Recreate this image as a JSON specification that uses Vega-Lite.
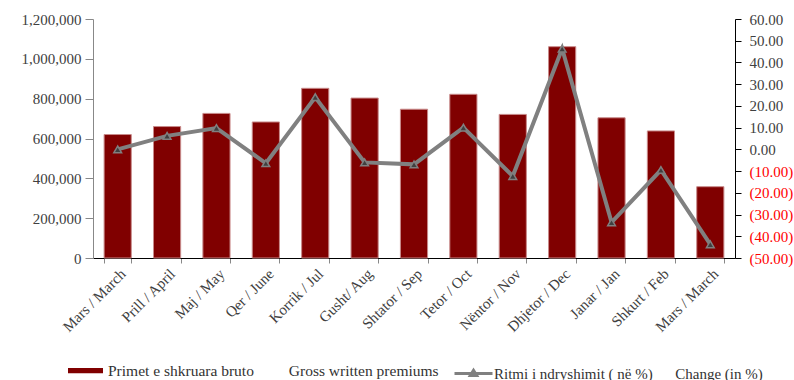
{
  "$schema": "https://vega.github.io/schema/vega-lite/v6.json",
  "autosize": {"type": "none"},
  "width": 642,
  "height": 239,
  "padding": {"left": 93, "top": 19, "right": 59, "bottom": 122},
  "background": "white",
  "config": {
    "font": "Liberation Serif",
    "view": {"stroke": null},
    "axis": {"labelFont": "Liberation Serif", "labelFontSize": 15, "labelColor": "#404040", "grid": false, "title": null},
    "legend": {"labelFont": "Liberation Serif", "labelFontSize": 15, "labelColor": "#333333", "labelLimit": 500, "title": null}
  },
  "data": {
    "values": [
      {"month": "Mars / March", "order": 1, "premiums": 620000, "change": 0.0},
      {"month": "Prill / April", "order": 2, "premiums": 660000, "change": 6.2},
      {"month": "Maj / May", "order": 3, "premiums": 726000, "change": 9.8},
      {"month": "Qer  / June", "order": 4, "premiums": 683000, "change": -6.4},
      {"month": "Korrik / Jul", "order": 5, "premiums": 852000, "change": 24.0},
      {"month": "Gusht/ Aug", "order": 6, "premiums": 803000, "change": -6.0},
      {"month": "Shtator / Sep", "order": 7, "premiums": 747000, "change": -6.9},
      {"month": "Tetor / Oct", "order": 8, "premiums": 822000, "change": 10.0},
      {"month": "Nëntor / Nov", "order": 9, "premiums": 721000, "change": -12.3},
      {"month": "Dhjetor / Dec", "order": 10, "premiums": 1061000, "change": 46.3},
      {"month": "Janar / Jan", "order": 11, "premiums": 704000, "change": -33.6},
      {"month": "Shkurt / Feb", "order": 12, "premiums": 638000, "change": -9.5},
      {"month": "Mars / March ", "order": 13, "premiums": 358000, "change": -43.7}
    ]
  },
  "encoding": {
    "x": {
      "field": "month", "type": "nominal", "sort": {"field": "order"},
      "scale": {"paddingInner": 0.45, "paddingOuter": 0.225},
      "axis": {"labelAngle": -45, "domainColor": "#000000", "tickColor": "#888888", "tickBand": "extent", "tickSize": 5, "labelPadding": 3}
    }
  },
  "layer": [
    {
      "mark": {"type": "bar", "stroke": "#c88a8a", "strokeWidth": 1},
      "encoding": {
        "y": {
          "field": "premiums", "type": "quantitative",
          "scale": {"domain": [0, 1200000]},
          "axis": {"values": [0, 200000, 400000, 600000, 800000, 1000000, 1200000], "format": ",d", "domainColor": "#888888", "tickColor": "#888888", "tickSize": 8, "labelPadding": 4}
        },
        "fill": {
          "datum": "Primet e shkruara bruto\u00a0\u00a0\u00a0\u00a0\u00a0\u00a0\u00a0\u00a0\u00a0Gross written premiums",
          "type": "nominal",
          "scale": {"range": ["#800000"]},
          "legend": {
            "orient": "none",
            "legendX": -25,
            "legendY": 334,
            "labelOffset": 5,
            "labelFontSize": 15.5,
            "symbolType": "M-1,-0.15H1V0.15H-1Z",
            "symbolSize": 1225,
            "symbolStrokeWidth": 0,
            "symbolOpacity": 1
          }
        }
      }
    },
    {
      "mark": {"type": "line", "strokeWidth": 4},
      "encoding": {
        "y": {
          "field": "change", "type": "quantitative",
          "scale": {"domain": [-50, 60]},
          "axis": {
            "orient": "right",
            "values": [-50, -40, -30, -20, -10, 0, 10, 20, 30, 40, 50, 60],
            "labelExpr": "datum.value < 0 ? '(' + format(-datum.value, '.2f') + ')' : format(datum.value, '.2f')",
            "labelColor": {"condition": {"test": "datum.value < 0", "value": "#ff0000"}, "value": "#404040"},
            "domainColor": "#000000", "tickColor": "#000000", "tickSize": 6, "labelPadding": 8
          }
        },
        "stroke": {
          "datum": "Ritmi i ndryshimit ( në %)\u00a0\u00a0\u00a0\u00a0\u00a0\u00a0Change (in %)",
          "type": "nominal",
          "scale": {"range": ["#808080"]},
          "legend": {
            "orient": "none",
            "legendX": 360,
            "legendY": 334,
            "labelOffset": 0,
            "symbolType": "M-1,0H1 M-0.17,0.11L0,-0.17L0.17,0.11Z",
            "symbolSize": 1444,
            "symbolStrokeWidth": 3,
            "symbolFillColor": "#404040",
            "symbolOpacity": 1
          }
        }
      }
    },
    {
      "mark": {"type": "point", "shape": "triangle-up", "filled": true, "fill": "#404040", "stroke": "#808080", "strokeWidth": 1.5, "size": 60, "opacity": 1},
      "encoding": {
        "y": {"field": "change", "type": "quantitative", "scale": {"domain": [-50, 60]}, "axis": null}
      }
    }
  ],
  "resolve": {"scale": {"y": "independent"}, "axis": {"y": "independent"}}
}
